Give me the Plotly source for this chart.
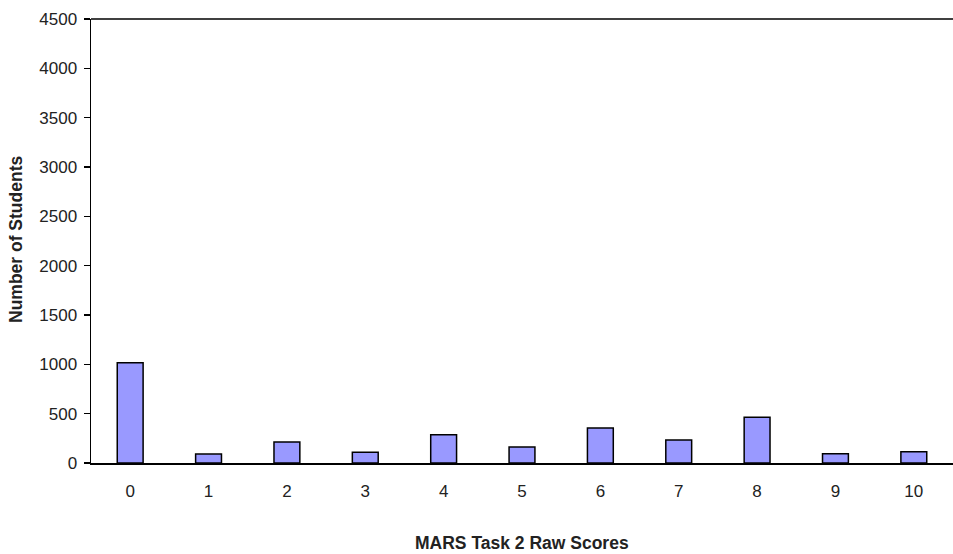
import plotly.graph_objects as go

scores = ["0", "1", "2", "3", "4", "5", "6", "7", "8", "9", "10"]
students = [1015, 90, 213, 110, 287, 162, 355, 233, 463, 95, 115]
y_ticks = [0, 500, 1000, 1500, 2000, 2500, 3000, 3500, 4000, 4500]

fig = go.Figure(go.Bar(
    x=scores, y=students, width=0.33,
    marker=dict(color="#9999FF", line=dict(color="#000000", width=1.5)),
))

W, H = 953, 554
L, T, B, R = 91, 19, 91, 0
PW, PH = W - L - R, H - T - B

fig.update_layout(
    width=W, height=H,
    margin=dict(l=L, r=R, t=T, b=B, autoexpand=False),
    paper_bgcolor="white", plot_bgcolor="white",
    font=dict(family="Liberation Sans, Arial, sans-serif", size=17, color="#222222"),
    showlegend=False,
    bargap=0,
    xaxis=dict(
        type="category", range=[-0.5, 10.5],
        showline=True, linecolor="black", linewidth=1.5,
        ticks="", showgrid=False, zeroline=False,
        ticklabelstandoff=12,
        tickfont=dict(size=17, color="#222222"),
    ),
    yaxis=dict(
        range=[0, 4500], tickvals=y_ticks,
        showline=True, linecolor="black", linewidth=1.5,
        ticks="outside", ticklen=6, tickwidth=1.5, tickcolor="black",
        showgrid=False, zeroline=False,
        ticklabelstandoff=3,
        tickfont=dict(size=17, color="#222222"),
    ),
    shapes=[dict(type="line", xref="paper", yref="paper", x0=0, x1=1, y0=1, y1=1,
                 line=dict(color="black", width=1.5))],
    annotations=[
        dict(text="<b>MARS Task 2 Raw Scores</b>", xref="paper", yref="paper",
             x=(522 - L) / PW, y=-(543 - 463) / PH, showarrow=False,
             xanchor="center", yanchor="middle",
             font=dict(size=17.5, color="#222222")),
        dict(text="<b>Number of Students</b>", xref="paper", yref="paper",
             x=(16 - L) / PW, y=(463 - 240) / PH, showarrow=False, textangle=-90,
             xanchor="center", yanchor="middle",
             font=dict(size=17.5, color="#222222")),
    ],
)

fig.write_html(
    "out.html",
    config={"displayModeBar": False, "staticPlot": True},
    post_script="document.body.style.margin='0';document.body.style.overflow='hidden';",
)
